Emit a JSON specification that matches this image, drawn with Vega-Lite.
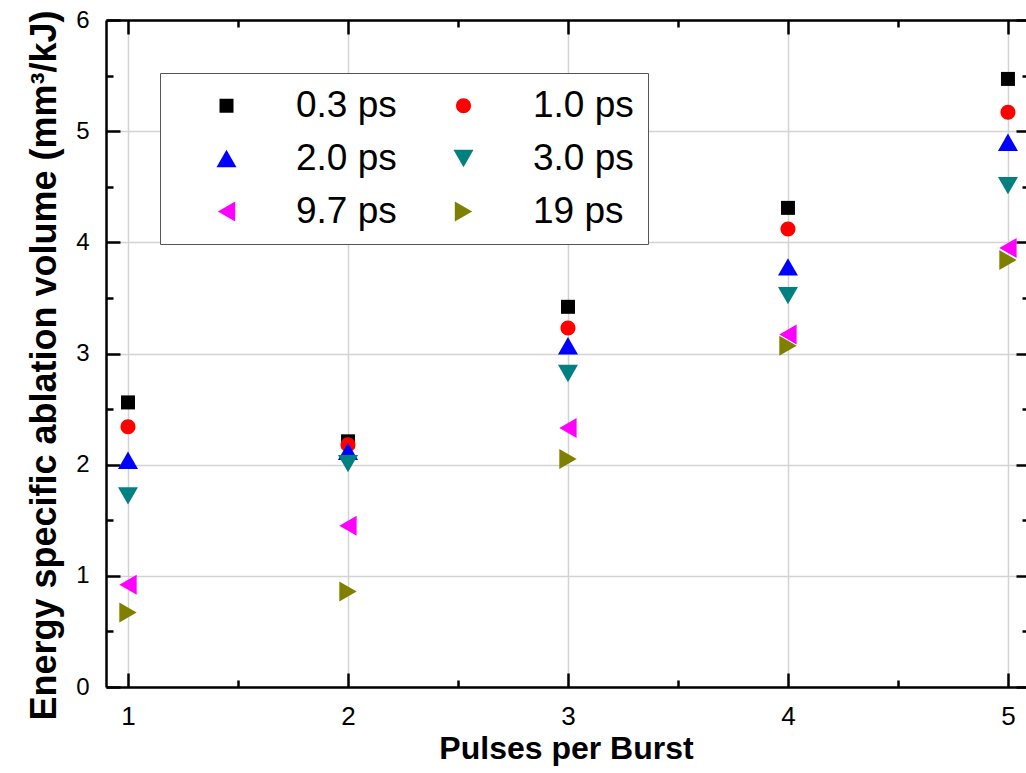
{
  "$schema": "https://vega.github.io/schema/vega-lite/v6.json",
  "width": 920,
  "height": 667,
  "autosize": {"type": "none"},
  "padding": {"left": 106, "top": 20, "right": 0, "bottom": 86},
  "background": "#ffffff",
  "config": {
    "font": "Liberation Sans",
    "view": {"stroke": null},
    "axis": {
      "domainColor": "#000000",
      "tickColor": "#000000",
      "domainWidth": 2.5,
      "tickWidth": 2.5,
      "gridColor": "#d3d3d3",
      "gridWidth": 1.5,
      "labelColor": "#000000",
      "titleColor": "#000000",
      "labelFont": "Liberation Sans",
      "titleFont": "Liberation Sans"
    }
  },
  "data": {
    "values": [
      {"series": "0.3 ps", "pulses": 1, "value": 2.56},
      {"series": "0.3 ps", "pulses": 2, "value": 2.21},
      {"series": "0.3 ps", "pulses": 3, "value": 3.42},
      {"series": "0.3 ps", "pulses": 4, "value": 4.31},
      {"series": "0.3 ps", "pulses": 5, "value": 5.47},
      {"series": "1.0 ps", "pulses": 1, "value": 2.34},
      {"series": "1.0 ps", "pulses": 2, "value": 2.18},
      {"series": "1.0 ps", "pulses": 3, "value": 3.23},
      {"series": "1.0 ps", "pulses": 4, "value": 4.12},
      {"series": "1.0 ps", "pulses": 5, "value": 5.17},
      {"series": "2.0 ps", "pulses": 1, "value": 2.04},
      {"series": "2.0 ps", "pulses": 2, "value": 2.12},
      {"series": "2.0 ps", "pulses": 3, "value": 3.07},
      {"series": "2.0 ps", "pulses": 4, "value": 3.78},
      {"series": "2.0 ps", "pulses": 5, "value": 4.9},
      {"series": "3.0 ps", "pulses": 1, "value": 1.72},
      {"series": "3.0 ps", "pulses": 2, "value": 2.01},
      {"series": "3.0 ps", "pulses": 3, "value": 2.82},
      {"series": "3.0 ps", "pulses": 4, "value": 3.52},
      {"series": "3.0 ps", "pulses": 5, "value": 4.51},
      {"series": "9.7 ps", "pulses": 1, "value": 0.92},
      {"series": "9.7 ps", "pulses": 2, "value": 1.45},
      {"series": "9.7 ps", "pulses": 3, "value": 2.33},
      {"series": "9.7 ps", "pulses": 4, "value": 3.17},
      {"series": "9.7 ps", "pulses": 5, "value": 3.95},
      {"series": "19 ps", "pulses": 1, "value": 0.67},
      {"series": "19 ps", "pulses": 2, "value": 0.86},
      {"series": "19 ps", "pulses": 3, "value": 2.05},
      {"series": "19 ps", "pulses": 4, "value": 3.07},
      {"series": "19 ps", "pulses": 5, "value": 3.84}
    ]
  },
  "layer": [
    {
      "mark": {"type": "point", "filled": true, "opacity": 0},
      "encoding": {
        "x": {"field": "pulses", "type": "quantitative", "scale": {"domain": [0.9, 5.082], "nice": false, "zero": false},
          "axis": {"orient": "top", "values": [1.5, 2.5, 3.5, 4.5], "tickSize": -7, "labels": false, "domain": false, "grid": false, "title": null}},
        "y": {"field": "value", "type": "quantitative", "scale": {"domain": [0, 6], "nice": false},
          "axis": {"orient": "right", "values": [0.5, 1.5, 2.5, 3.5, 4.5, 5.5], "tickSize": -4, "labels": false, "domain": false, "grid": false, "title": null}}
      }
    },
    {
      "mark": {"type": "point", "filled": true, "opacity": 0},
      "encoding": {
        "x": {"field": "pulses", "type": "quantitative", "scale": {"domain": [0.9, 5.082], "nice": false, "zero": false},
          "axis": {"orient": "top", "values": [1, 2, 3, 4, 5], "tickSize": -14, "labels": false, "domain": true, "grid": false, "title": null}},
        "y": {"field": "value", "type": "quantitative", "scale": {"domain": [0, 6], "nice": false},
          "axis": {"orient": "right", "values": [0, 1, 2, 3, 4, 5, 6], "tickSize": -10, "labels": false, "domain": false, "grid": false, "title": null}}
      }
    },
    {
      "mark": {"type": "point", "filled": true, "opacity": 0},
      "encoding": {
        "x": {"field": "pulses", "type": "quantitative", "scale": {"domain": [0.9, 5.082], "nice": false, "zero": false},
          "axis": {"orient": "bottom", "values": [1.5, 2.5, 3.5, 4.5], "tickSize": -7, "labels": false, "domain": false, "grid": false, "title": null}},
        "y": {"field": "value", "type": "quantitative", "scale": {"domain": [0, 6], "nice": false},
          "axis": {"orient": "left", "values": [0.5, 1.5, 2.5, 3.5, 4.5, 5.5], "tickSize": -7, "labels": false, "domain": false, "grid": false, "title": null}}
      }
    },
    {
      "mark": {"type": "point", "filled": true, "opacity": 1, "size": 400, "strokeWidth": 0},
      "encoding": {
        "x": {"field": "pulses", "type": "quantitative", "scale": {"domain": [0.9, 5.082], "nice": false, "zero": false},
          "axis": {"orient": "bottom", "values": [1, 2, 3, 4, 5], "tickSize": -14, "grid": true, "domain": true,
            "labelFontSize": 26, "labelPadding": 30, "title": "Pulses per Burst", "titleFontSize": 32, "titleFontWeight": "bold", "titlePadding": 4}},
        "y": {"field": "value", "type": "quantitative", "scale": {"domain": [0, 6], "nice": false},
          "axis": {"orient": "left", "values": [0, 1, 2, 3, 4, 5, 6], "tickSize": -14, "grid": true, "domain": true,
            "labelFontSize": 24, "labelPadding": 31, "title": "Energy specific ablation volume (mm³/kJ)", "titleFontSize": 36, "titleFontWeight": "bold", "titlePadding": 12, "titleY": 345}},
        "shape": {"field": "series", "type": "nominal",
          "scale": {"domain": ["0.3 ps", "1.0 ps", "2.0 ps", "3.0 ps", "9.7 ps", "19 ps"],
            "range": ["M-0.7,-0.7L0.7,-0.7L0.7,0.7L-0.7,0.7Z", "M0.75,0A0.75,0.75,0,1,1,-0.75,0A0.75,0.75,0,1,1,0.75,0Z", "triangle-up", "triangle-down", "triangle-left", "triangle-right"]},
          "legend": {"title": null, "orient": "none", "legendX": 54, "legendY": 53, "direction": "horizontal", "columns": 2, "symbolSize": 400, "labelFontSize": 37, "labelFont": "Liberation Sans", "labelColor": "#000000", "padding": 14, "strokeColor": "#555555", "fillColor": "#ffffff", "symbolOffset": 34, "labelOffset": 51, "columnPadding": 14, "rowPadding": 15, "symbolStrokeWidth": 0, "labelLimit": 400}},
        "color": {"field": "series", "type": "nominal",
          "scale": {"domain": ["0.3 ps", "1.0 ps", "2.0 ps", "3.0 ps", "9.7 ps", "19 ps"],
            "range": ["#000000", "#ff0000", "#0000ff", "#008080", "#ff00ff", "#808000"]},
          "legend": {"title": null, "orient": "none", "legendX": 54, "legendY": 53, "direction": "horizontal", "columns": 2, "symbolSize": 400, "labelFontSize": 37, "labelFont": "Liberation Sans", "labelColor": "#000000", "padding": 14, "strokeColor": "#555555", "fillColor": "#ffffff", "symbolOffset": 34, "labelOffset": 51, "columnPadding": 14, "rowPadding": 15, "symbolStrokeWidth": 0, "labelLimit": 400}}
      }
    }
  ],
  "resolve": {"axis": {"x": "independent", "y": "independent"}}
}
